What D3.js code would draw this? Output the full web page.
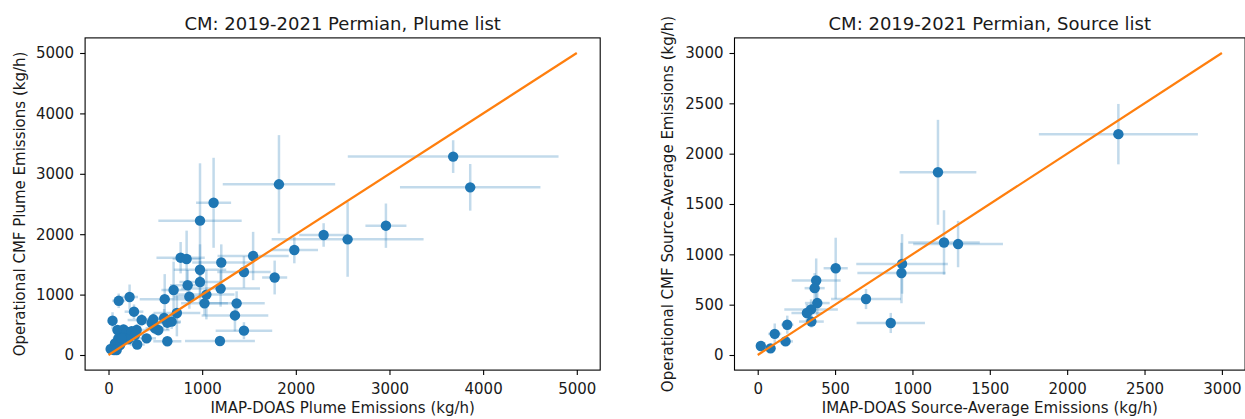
<!DOCTYPE html>
<html><head><meta charset="utf-8">
<script src="https://cdn.jsdelivr.net/npm/d3@7"></script>
<style>
body{margin:0;background:#fff;}
svg{display:block;font-family:"DejaVu Sans",sans-serif;}
</style></head><body>
<svg id="chart" width="1245" height="419"></svg>
<script>
// ---- Plume list (left panel) ----
const plumeX = [1820,1122,977,770,834,1204,1544,1984,2297,2553,1446,1774,977,977,845,1197,695,863,1045,1025,1368,1350,1446,1190,600,730,594,628,674,628,532,496,461,407,354,301,306,272,225,109,43,23,96,160,194,247,105,150,69,123,59,212,283,3680,3862,2962,478,87,141];
const plumeY = [2826,2520,2224,1611,1589,1532,1639,1738,1987,1915,1375,1283,1412,1208,1155,1100,1076,966,1000,855,855,655,403,232,925,695,612,535,552,227,414,442,530,276,579,414,174,717,960,897,568,99,414,425,386,392,276,290,193,166,83,259,331,3285,2776,2141,591,83,276];
const plumeXErr = [600,187,445,258,150,310,380,253,260,811,285,134,280,220,187,420,130,170,300,250,300,356,302,373,267,250,150,140,100,150,120,100,150,100,150,120,80,100,90,70,40,30,60,70,80,90,60,60,50,50,30,80,100,1125,750,219,150,40,60];
const plumeYErr = [814,745,950,260,470,300,400,220,195,620,260,280,420,350,250,300,470,200,410,200,200,262,140,60,414,386,150,120,120,60,100,100,100,80,100,100,60,120,207,120,140,40,80,80,70,80,70,60,50,50,40,60,80,271,386,367,100,40,60];
const plumeTicks = [0,1000,2000,3000,4000,5000];
const plumeLine = [0,5000];

// ---- Source list (right panel) ----
const sourceX = [2331,1165,1204,1295,933,929,700,860,504,378,368,385,345,318,347,191,110,180,20,83];
const sourceY = [2194,1815,1118,1102,905,814,556,318,862,740,664,516,453,417,332,301,210,135,89,66];
const sourceXErr = [514,248,231,290,296,285,226,221,78,158,65,80,173,100,80,40,42,48,30,30];
const sourceYErr = [300,521,320,230,296,300,100,100,303,219,150,120,100,90,60,90,103,40,30,30];
const sourceTicks = [0,500,1000,1500,2000,2500,3000];
const sourceLine = [0,3000];

const svg = d3.select("#chart");
const BLUE = "#1f77b4", ORANGE = "#ff7f0e", TXT = "#1a1a1a";

function panel(o) {
  const x = d3.scaleLinear().domain(o.xDomain).range(o.xRange);
  const y = d3.scaleLinear().domain(o.yDomain).range(o.yRange);
  const g = svg.append("g");
  const idx = d3.range(o.xs.length);
  // error bars
  g.append("g").selectAll("line.h").data(idx).join("line")
    .attr("x1", i => x(o.xs[i] - o.xe[i])).attr("x2", i => x(o.xs[i] + o.xe[i]))
    .attr("y1", i => y(o.ys[i])).attr("y2", i => y(o.ys[i]))
    .attr("stroke", BLUE).attr("stroke-opacity", 0.27).attr("stroke-width", 2.5);
  g.append("g").selectAll("line.v").data(idx).join("line")
    .attr("x1", i => x(o.xs[i])).attr("x2", i => x(o.xs[i]))
    .attr("y1", i => y(o.ys[i] - o.ye[i])).attr("y2", i => y(o.ys[i] + o.ye[i]))
    .attr("stroke", BLUE).attr("stroke-opacity", 0.27).attr("stroke-width", 2.5);
  // markers
  g.append("g").selectAll("circle").data(idx).join("circle")
    .attr("cx", i => x(o.xs[i])).attr("cy", i => y(o.ys[i])).attr("r", 5.2)
    .attr("fill", BLUE);
  // 1:1 line
  g.append("line")
    .attr("x1", x(o.line[0])).attr("y1", y(o.line[0]))
    .attr("x2", x(o.line[1])).attr("y2", y(o.line[1]))
    .attr("stroke", ORANGE).attr("stroke-width", 2.2);
  // frame
  g.append("rect")
    .attr("x", o.xRange[0]).attr("y", o.yRange[1])
    .attr("width", o.xRange[1] - o.xRange[0]).attr("height", o.yRange[0] - o.yRange[1])
    .attr("fill", "none").attr("stroke", "#000").attr("stroke-width", 1.1);
  // axes
  const ax = g.append("g").attr("transform", `translate(0,${o.yRange[0]})`)
    .call(d3.axisBottom(x).tickValues(o.ticks).tickSize(5).tickPadding(8).tickFormat(d3.format("d")));
  const ay = g.append("g").attr("transform", `translate(${o.xRange[0]},0)`)
    .call(d3.axisLeft(y).tickValues(o.ticks).tickSize(5).tickPadding(6).tickFormat(d3.format("d")));
  [ax, ay].forEach(a => {
    a.select(".domain").remove();
    a.selectAll(".tick line").attr("stroke", "#000").attr("stroke-width", 1.1);
    a.selectAll(".tick text").attr("fill", TXT).style("font-size", "15px")
      .style("font-family", "'DejaVu Sans', sans-serif");
  });
  const cx = (o.xRange[0] + o.xRange[1]) / 2;
  const cy = (o.yRange[0] + o.yRange[1]) / 2;
  g.append("text").attr("x", cx).attr("y", 30).attr("text-anchor", "middle")
    .attr("fill", TXT).style("font-size", "18px").text(o.title);
  g.append("text").attr("x", cx).attr("y", 413).attr("text-anchor", "middle")
    .attr("fill", TXT).style("font-size", "15px").text(o.xLabel);
  g.append("text").attr("transform", `translate(${o.yLabelX},${cy}) rotate(-90)`)
    .attr("text-anchor", "middle").attr("fill", TXT).style("font-size", "15px").text(o.yLabel);
}

panel({
  xs: plumeX, ys: plumeY, xe: plumeXErr, ye: plumeYErr,
  xDomain: [-250, 5250], xRange: [85.1, 600.2],
  yDomain: [-250, 5250], yRange: [370.1, 37.9],
  ticks: plumeTicks, line: plumeLine,
  title: "CM: 2019-2021 Permian, Plume list",
  xLabel: "IMAP-DOAS Plume Emissions (kg/h)",
  yLabel: "Operational CMF Plume Emissions (kg/h)",
  yLabelX: 25
});
panel({
  xs: sourceX, ys: sourceY, xe: sourceXErr, ye: sourceYErr,
  xDomain: [-150, 3150], xRange: [734.5, 1245.1],
  yDomain: [-150, 3150], yRange: [370.1, 37.9],
  ticks: sourceTicks, line: sourceLine,
  title: "CM: 2019-2021 Permian, Source list",
  xLabel: "IMAP-DOAS Source-Average Emissions (kg/h)",
  yLabel: "Operational CMF Source-Average Emissions (kg/h)",
  yLabelX: 673
});
</script>
</body></html>
